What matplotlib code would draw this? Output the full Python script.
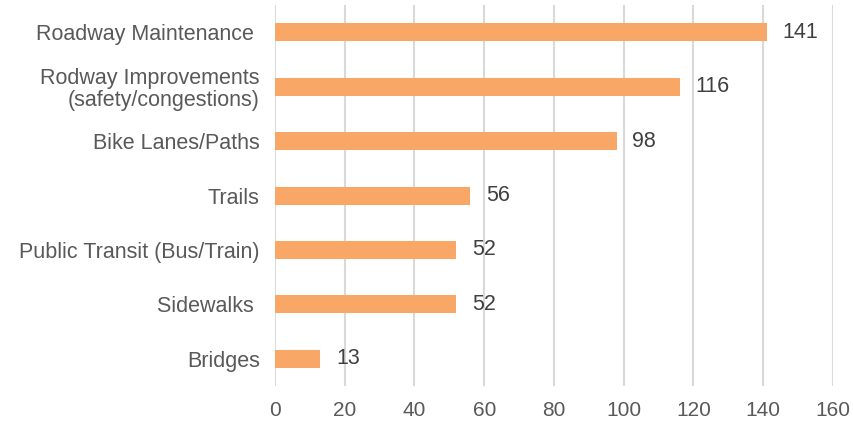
import matplotlib
matplotlib.use("Agg")
import matplotlib.pyplot as plt

categories = ["Roadway Maintenance ", "Rodway Improvements\n(safety/congestions)", "Bike Lanes/Paths",
              "Trails", "Public Transit (Bus/Train)", "Sidewalks ", "Bridges"]
values = [141, 116, 98, 56, 52, 52, 13]
xticks = [0, 20, 40, 60, 80, 100, 120, 140, 160]

plt.rcParams['font.family'] = ['Liberation Sans', 'DejaVu Sans']

fig = plt.figure(figsize=(8.54, 4.24), dpi=100)
ax = fig.add_axes([0.322, 0.0896, 0.6534, 0.8984])

y = list(range(len(categories)))
ax.barh(y, values, height=0.33, color="#F8A766", zorder=3)
for yi, v in zip(y, values):
    ax.text(v + 4.5, yi, str(v), va="center", ha="left", fontsize=15.5, color="#404040")

ax.set_yticks(y)
ax.set_yticklabels(categories, fontsize=15.5, color="#595959", linespacing=1.05)
ax.set_ylim(len(categories) - 0.5, -0.5)
ax.set_xlim(0, 160)
ax.set_xticks(xticks)
ax.set_xticklabels([str(t) for t in xticks], fontsize=15, color="#595959")
ax.tick_params(axis="both", length=0)
ax.tick_params(axis="x", pad=11)
ax.tick_params(axis="y", pad=11)
ax.xaxis.grid(True, color="#D9D9D9", linewidth=1.5, zorder=0)
for s in ax.spines.values():
    s.set_visible(False)

fig.savefig("out.png", dpi=100)
